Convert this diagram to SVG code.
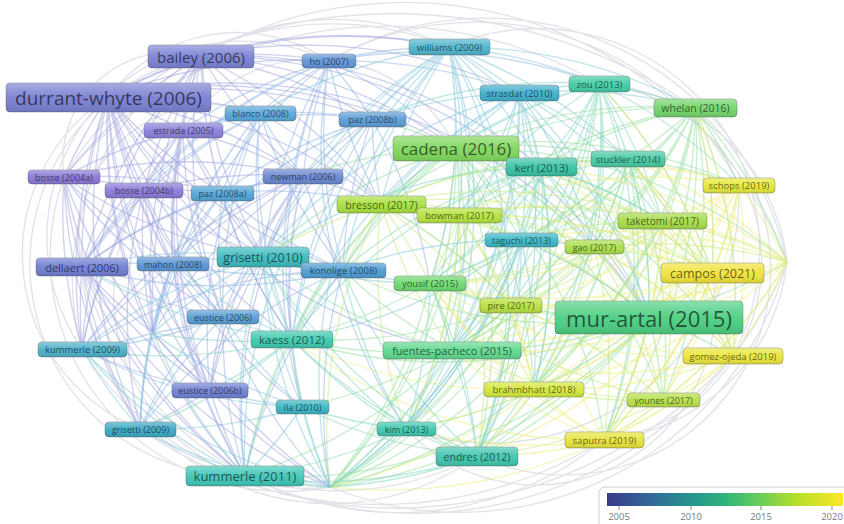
<svg xmlns="http://www.w3.org/2000/svg" width="844" height="524" viewBox="0 0 844 524">
<defs>
<linearGradient id="gloss" x1="0" y1="0" x2="0" y2="1">
<stop offset="0" stop-color="#fff" stop-opacity="0.35"/>
<stop offset="0.5" stop-color="#fff" stop-opacity="0.05"/>
<stop offset="1" stop-color="#000" stop-opacity="0.1"/>
</linearGradient>
<linearGradient id="viridis" x1="0" y1="0" x2="1" y2="0">
<stop offset="0" stop-color="#3b3a8a"/>
<stop offset="0.18" stop-color="#32689a"/>
<stop offset="0.356" stop-color="#26958f"/>
<stop offset="0.5" stop-color="#2fb47c"/>
<stop offset="0.653" stop-color="#6cce58"/>
<stop offset="0.8" stop-color="#b5de2b"/>
<stop offset="1" stop-color="#fde725"/>
</linearGradient>
</defs>
<style>
.edges path{fill:none;stroke-width:1.35;stroke-opacity:.5}
.ep{stroke:#a0a4e0}.eb{stroke:#8fb6e3}.ec{stroke:#84c8dc}.et{stroke:#7fd5c2}
.eg{stroke:#95e09e}.el{stroke:#c8e97c}.ey{stroke:#eded7a}.eh{stroke:#c3c8d4}
.node .b{stroke:#4a4a4a;stroke-opacity:.45;stroke-width:.8}
.node .g{fill:url(#gloss)}
.node text{font-family:"Open Sans","Liberation Sans",sans-serif;text-anchor:middle;dominant-baseline:central;fill:#000;fill-opacity:.6}
.legend text{font-family:"Open Sans","Liberation Sans",sans-serif;font-size:9.5px;fill:#777;text-anchor:middle}
</style>
<rect width="844" height="524" fill="#fff"/>

<g id="connectors" class="edges">
<!-- outer envelope arcs -->
<path class="eh" d="M64 177A310 310 0 0 1 449 47M108 97A530 530 0 0 1 695 108M329 61A295 295 0 0 1 739 185M201 56A412 412 0 0 1 787 262M449 47A222 222 0 0 1 733 356M599 84A179 179 0 0 1 604 440M695 108A207 207 0 0 1 477 456M787 262A402 402 0 0 1 245 476M733 356A451 451 0 0 1 140 429M604 440A327 327 0 0 1 82 267M330 487A235 235 0 0 1 64 177M140 429A188 188 0 0 1 108 97M245 476A212 212 0 0 1 201 56M82 349A196 196 0 0 1 329 61M712 273A179 179 0 0 1 406 429M787 262A308 308 0 0 0 329 61M82 267A249 249 0 0 0 477 456M144 190A194 194 0 0 0 330 487M183 130A157 157 0 0 1 456 148M64 177A109 109 0 0 1 201 56M82 267A134 134 0 0 1 260 113M108 97A162 162 0 0 1 329 61M64 177A420 420 0 0 1 599 84M82 349A260 260 0 0 1 449 47M787 262A340 340 0 0 1 330 487M739 185A250 250 0 0 1 406 429M787 262A200 200 0 0 1 604 440M787 262A200 200 0 0 0 599 84M477 456A300 300 0 0 1 82 349M604 440A420 420 0 0 1 140 429"/>
<!-- bailey -->
<path class="ep" d="M201 56A500 500 0 0 0 108 97M201 56A500 500 0 0 1 329 61M201 56A500 500 0 0 1 449 47M201 56A500 500 0 0 1 372 119M201 56A500 500 0 0 1 260 113M201 56A500 500 0 0 0 183 130M201 56A500 500 0 0 0 64 177M201 56A500 500 0 0 0 144 190M201 56A500 500 0 0 0 222 193M201 56A500 500 0 0 0 303 176M201 56A500 500 0 0 0 263 257M201 56A500 500 0 0 0 173 264M201 56A500 500 0 0 0 82 267M201 56A500 500 0 0 0 82 349M201 56A500 500 0 0 0 292 339M201 56A500 500 0 0 0 223 317M201 56A500 500 0 0 0 140 429M201 56A500 500 0 0 0 245 476M201 56A500 500 0 0 0 153 333M201 56A500 500 0 0 1 456 148M201 56A500 500 0 0 1 519 93M201 56A500 500 0 0 1 381 204M201 56A500 500 0 0 1 541 167M201 56A500 500 0 0 1 649 317"/>
<!-- durrant-whyte -->
<path class="ep" d="M108 97A500 500 0 0 1 329 61M108 97A500 500 0 0 1 372 119M108 97A500 500 0 0 1 260 113M108 97A500 500 0 0 1 183 130M108 97A500 500 0 0 0 64 177M108 97A500 500 0 0 0 144 190M108 97A500 500 0 0 0 222 193M108 97A500 500 0 0 1 303 176M108 97A500 500 0 0 0 263 257M108 97A500 500 0 0 0 173 264M108 97A500 500 0 0 0 82 267M108 97A500 500 0 0 0 82 349M108 97A500 500 0 0 0 140 429M108 97A500 500 0 0 0 210 390M108 97A500 500 0 0 0 223 317M108 97A500 500 0 0 0 292 339M108 97A500 500 0 0 0 245 476M108 97A500 500 0 0 0 153 333M108 97A500 500 0 0 0 330 487M108 97A500 500 0 0 1 449 47M108 97A500 500 0 0 1 456 148M108 97A500 500 0 0 1 381 204M108 97A500 500 0 0 0 343 270M108 97A500 500 0 0 0 302 407M108 97A500 500 0 0 1 649 317M108 97A500 500 0 0 0 452 350"/>
<!-- ho -->
<path class="eb" d="M329 61A500 500 0 0 1 449 47M329 61A500 500 0 0 1 372 119M329 61A500 500 0 0 0 260 113M329 61A500 500 0 0 0 183 130M329 61A500 500 0 0 0 303 176M329 61A500 500 0 0 0 381 204M329 61A500 500 0 0 1 456 148M329 61A500 500 0 0 1 519 93M329 61A500 500 0 0 1 599 84M329 61A500 500 0 0 0 263 257M329 61A500 500 0 0 0 343 270M329 61A500 500 0 0 0 292 339M329 61A500 500 0 0 0 153 333M329 61A500 500 0 0 0 82 267M329 61A500 500 0 0 0 144 190M329 61A500 500 0 0 0 302 407M329 61A500 500 0 0 0 406 429"/>
<!-- williams -->
<path class="ec" d="M449 47A500 500 0 0 1 519 93M449 47A500 500 0 0 1 599 84M449 47A500 500 0 0 1 456 148M449 47A500 500 0 0 1 541 167M449 47A500 500 0 0 0 372 119M449 47A500 500 0 0 0 260 113M449 47A500 500 0 0 0 303 176M449 47A500 500 0 0 0 381 204M449 47A500 500 0 0 1 459 215M449 47A500 500 0 0 1 521 240M449 47A500 500 0 0 0 263 257M449 47A500 500 0 0 0 343 270M449 47A500 500 0 0 0 292 339M449 47A500 500 0 0 1 477 456M449 47A500 500 0 0 1 406 429M449 47A500 500 0 0 1 695 108M449 47A500 500 0 0 1 628 159M449 47A500 500 0 0 0 330 487M449 47A500 500 0 0 0 245 476M449 47A500 500 0 0 1 649 317M449 47A500 500 0 0 1 452 350M449 47A500 500 0 0 1 430 283"/>
<!-- strasdat -->
<path class="ec" d="M519 93A500 500 0 0 1 599 84M519 93A500 500 0 0 1 695 108M519 93A500 500 0 0 0 456 148M519 93A500 500 0 0 1 541 167M519 93A500 500 0 0 1 628 159M519 93A500 500 0 0 1 662 221M519 93A500 500 0 0 0 372 119M519 93A500 500 0 0 0 381 204M519 93A500 500 0 0 1 459 215M519 93A500 500 0 0 1 521 240M519 93A500 500 0 0 1 594 247M519 93A500 500 0 0 1 649 317M519 93A500 500 0 0 1 452 350M519 93A500 500 0 0 1 477 456M519 93A500 500 0 0 1 406 429M519 93A500 500 0 0 0 292 339M519 93A500 500 0 0 0 263 257M519 93A500 500 0 0 0 343 270M519 93A500 500 0 0 1 430 283M519 93A500 500 0 0 1 534 389M519 93A500 500 0 0 1 330 487"/>
<!-- zou -->
<path class="et" d="M599 84A500 500 0 0 1 695 108M599 84A500 500 0 0 0 456 148M599 84A500 500 0 0 1 541 167M599 84A500 500 0 0 1 628 159M599 84A500 500 0 0 1 739 185M599 84A500 500 0 0 1 662 221M599 84A500 500 0 0 0 459 215M599 84A500 500 0 0 1 521 240M599 84A500 500 0 0 1 594 247M599 84A500 500 0 0 1 712 273M599 84A500 500 0 0 1 649 317M599 84A500 500 0 0 1 452 350M599 84A500 500 0 0 1 477 456M599 84A500 500 0 0 1 534 389M599 84A500 500 0 0 1 604 440M599 84A500 500 0 0 1 430 283M599 84A500 500 0 0 1 511 305M599 84A500 500 0 0 0 381 204M599 84A500 500 0 0 0 372 119"/>
<!-- whelan -->
<path class="eg" d="M695 108A500 500 0 0 0 456 148M695 108A500 500 0 0 0 541 167M695 108A500 500 0 0 1 628 159M695 108A500 500 0 0 1 739 185M695 108A500 500 0 0 1 662 221M695 108A500 500 0 0 0 459 215M695 108A500 500 0 0 1 521 240M695 108A500 500 0 0 1 594 247M695 108A500 500 0 0 1 712 273M695 108A500 500 0 0 1 649 317M695 108A500 500 0 0 1 733 356M695 108A500 500 0 0 1 663 400M695 108A500 500 0 0 1 534 389M695 108A500 500 0 0 1 604 440M695 108A500 500 0 0 1 452 350M695 108A500 500 0 0 1 430 283M695 108A500 500 0 0 1 511 305M695 108A500 500 0 0 0 381 204M695 108A500 500 0 0 1 787 262M695 108A500 500 0 0 1 477 456"/>
<!-- cadena -->
<path class="eg" d="M456 148A500 500 0 0 1 541 167M456 148A500 500 0 0 1 628 159M456 148A500 500 0 0 1 739 185M456 148A500 500 0 0 1 662 221M456 148A500 500 0 0 0 381 204M456 148A500 500 0 0 1 459 215M456 148A500 500 0 0 1 521 240M456 148A500 500 0 0 1 594 247M456 148A500 500 0 0 1 712 273M456 148A500 500 0 0 1 649 317M456 148A500 500 0 0 1 733 356M456 148A500 500 0 0 1 663 400M456 148A500 500 0 0 1 534 389M456 148A500 500 0 0 1 604 440M456 148A500 500 0 0 1 477 456M456 148A500 500 0 0 1 406 429M456 148A500 500 0 0 1 452 350M456 148A500 500 0 0 1 430 283M456 148A500 500 0 0 1 511 305M456 148A500 500 0 0 0 372 119M456 148A500 500 0 0 0 303 176M456 148A500 500 0 0 0 263 257M456 148A500 500 0 0 0 343 270M456 148A500 500 0 0 0 292 339M456 148A500 500 0 0 1 330 487M456 148A500 500 0 0 1 787 262M456 148A500 500 0 0 0 245 476"/>
<!-- kerl -->
<path class="et" d="M541 167A500 500 0 0 1 628 159M541 167A500 500 0 0 1 662 221M541 167A500 500 0 0 0 459 215M541 167A500 500 0 0 1 521 240M541 167A500 500 0 0 1 594 247M541 167A500 500 0 0 1 649 317M541 167A500 500 0 0 1 477 456M541 167A500 500 0 0 1 406 429M541 167A500 500 0 0 1 452 350M541 167A500 500 0 0 1 534 389M541 167A500 500 0 0 1 430 283M541 167A500 500 0 0 1 511 305M541 167A500 500 0 0 0 263 257M541 167A500 500 0 0 0 292 339M541 167A500 500 0 0 0 343 270M541 167A500 500 0 0 1 330 487"/>
<!-- stuckler -->
<path class="eg" d="M628 159A500 500 0 0 1 739 185M628 159A500 500 0 0 1 662 221M628 159A500 500 0 0 0 459 215M628 159A500 500 0 0 1 521 240M628 159A500 500 0 0 1 594 247M628 159A500 500 0 0 1 712 273M628 159A500 500 0 0 1 649 317M628 159A500 500 0 0 1 733 356M628 159A500 500 0 0 1 663 400M628 159A500 500 0 0 1 534 389M628 159A500 500 0 0 1 604 440M628 159A500 500 0 0 1 452 350M628 159A500 500 0 0 1 430 283M628 159A500 500 0 0 1 511 305M628 159A500 500 0 0 0 381 204M628 159A500 500 0 0 1 477 456"/>
<!-- schops -->
<path class="ey" d="M739 185A500 500 0 0 1 662 221M739 185A500 500 0 0 1 594 247M739 185A500 500 0 0 1 712 273M739 185A500 500 0 0 1 649 317M739 185A500 500 0 0 1 733 356M739 185A500 500 0 0 1 663 400M739 185A500 500 0 0 1 534 389M739 185A500 500 0 0 1 604 440M739 185A500 500 0 0 1 787 262M739 185A500 500 0 0 1 511 305M739 185A500 500 0 0 1 452 350M739 185A500 500 0 0 0 459 215M739 185A500 500 0 0 0 381 204M739 185A500 500 0 0 0 541 167M739 185A500 500 0 0 1 430 283"/>
<!-- taketomi -->
<path class="el" d="M662 221A500 500 0 0 1 594 247M662 221A500 500 0 0 1 712 273M662 221A500 500 0 0 1 649 317M662 221A500 500 0 0 1 733 356M662 221A500 500 0 0 1 663 400M662 221A500 500 0 0 1 534 389M662 221A500 500 0 0 1 604 440M662 221A500 500 0 0 1 511 305M662 221A500 500 0 0 1 430 283M662 221A500 500 0 0 1 452 350M662 221A500 500 0 0 1 787 262M662 221A500 500 0 0 0 459 215M662 221A500 500 0 0 0 381 204M662 221A500 500 0 0 0 521 240"/>
<!-- paz 2008b -->
<path class="eb" d="M372 119A500 500 0 0 0 260 113M372 119A500 500 0 0 0 303 176M372 119A500 500 0 0 0 381 204M372 119A500 500 0 0 0 263 257M372 119A500 500 0 0 0 343 270M372 119A500 500 0 0 0 222 193M372 119A500 500 0 0 0 183 130M372 119A500 500 0 0 0 173 264M372 119A500 500 0 0 0 292 339M372 119A500 500 0 0 1 430 283"/>
<!-- blanco -->
<path class="eb" d="M260 113A500 500 0 0 0 183 130M260 113A500 500 0 0 0 222 193M260 113A500 500 0 0 0 303 176M260 113A500 500 0 0 0 263 257M260 113A500 500 0 0 0 173 264M260 113A500 500 0 0 0 82 267M260 113A500 500 0 0 0 223 317M260 113A500 500 0 0 0 292 339M260 113A500 500 0 0 0 343 270M260 113A500 500 0 0 1 381 204M260 113A500 500 0 0 0 144 190M260 113A500 500 0 0 0 153 333M260 113A500 500 0 0 0 210 390M260 113A500 500 0 0 0 140 429"/>
<!-- estrada -->
<path class="ep" d="M183 130A500 500 0 0 0 64 177M183 130A500 500 0 0 0 144 190M183 130A500 500 0 0 0 222 193M183 130A500 500 0 0 1 303 176M183 130A500 500 0 0 0 173 264M183 130A500 500 0 0 0 82 267M183 130A500 500 0 0 0 82 349M183 130A500 500 0 0 0 223 317M183 130A500 500 0 0 0 153 333M183 130A500 500 0 0 0 263 257M183 130A500 500 0 0 0 210 390"/>
<!-- bosse 2004a -->
<path class="ep" d="M64 177A500 500 0 0 1 144 190M64 177A500 500 0 0 1 222 193M64 177A500 500 0 0 0 82 267M64 177A500 500 0 0 0 82 349M64 177A500 500 0 0 0 173 264M64 177A500 500 0 0 0 140 429M64 177A500 500 0 0 0 153 333M64 177A500 500 0 0 0 210 390M64 177A500 500 0 0 0 223 317M64 177A500 500 0 0 0 263 257M64 177A500 500 0 0 1 303 176M64 177A500 500 0 0 0 245 476"/>
<!-- bosse 2004b -->
<path class="ep" d="M144 190A500 500 0 0 1 222 193M144 190A500 500 0 0 0 173 264M144 190A500 500 0 0 0 82 267M144 190A500 500 0 0 0 82 349M144 190A500 500 0 0 0 153 333M144 190A500 500 0 0 0 223 317M144 190A500 500 0 0 0 263 257M144 190A500 500 0 0 1 303 176M144 190A500 500 0 0 0 210 390"/>
<!-- paz 2008a -->
<path class="eb" d="M222 193A500 500 0 0 1 303 176M222 193A500 500 0 0 0 263 257M222 193A500 500 0 0 0 173 264M222 193A500 500 0 0 0 82 267M222 193A500 500 0 0 0 223 317M222 193A500 500 0 0 0 292 339M222 193A500 500 0 0 0 153 333M222 193A500 500 0 0 0 343 270M222 193A500 500 0 0 1 381 204"/>
<!-- newman -->
<path class="ep" d="M303 176A500 500 0 0 1 381 204M303 176A500 500 0 0 0 263 257M303 176A500 500 0 0 0 343 270M303 176A500 500 0 0 0 173 264M303 176A500 500 0 0 0 82 267M303 176A500 500 0 0 0 292 339M303 176A500 500 0 0 0 223 317M303 176A500 500 0 0 0 153 333M303 176A500 500 0 0 0 302 407M303 176A500 500 0 0 0 210 390M303 176A500 500 0 0 0 82 349M303 176A500 500 0 0 0 245 476"/>
<!-- bresson -->
<path class="el" d="M381 204A500 500 0 0 1 459 215M381 204A500 500 0 0 1 521 240M381 204A500 500 0 0 1 594 247M381 204A500 500 0 0 1 649 317M381 204A500 500 0 0 0 452 350M381 204A500 500 0 0 1 430 283M381 204A500 500 0 0 1 511 305M381 204A500 500 0 0 0 343 270M381 204A500 500 0 0 0 263 257M381 204A500 500 0 0 1 534 389M381 204A500 500 0 0 1 712 273M381 204A500 500 0 0 0 406 429M381 204A500 500 0 0 0 330 487"/>
<!-- bowman -->
<path class="el" d="M459 215A500 500 0 0 1 521 240M459 215A500 500 0 0 1 594 247M459 215A500 500 0 0 1 649 317M459 215A500 500 0 0 1 452 350M459 215A500 500 0 0 1 430 283M459 215A500 500 0 0 1 511 305M459 215A500 500 0 0 1 534 389M459 215A500 500 0 0 1 477 456M459 215A500 500 0 0 1 712 273M459 215A500 500 0 0 1 406 429"/>
<!-- taguchi -->
<path class="ec" d="M521 240A500 500 0 0 1 594 247M521 240A500 500 0 0 1 649 317M521 240A500 500 0 0 1 477 456M521 240A500 500 0 0 1 406 429M521 240A500 500 0 0 1 452 350M521 240A500 500 0 0 1 430 283M521 240A500 500 0 0 1 511 305M521 240A500 500 0 0 1 534 389M521 240A500 500 0 0 1 292 339M521 240A500 500 0 0 0 343 270M521 240A500 500 0 0 1 330 487"/>
<!-- gao -->
<path class="el" d="M594 247A500 500 0 0 1 712 273M594 247A500 500 0 0 1 649 317M594 247A500 500 0 0 1 733 356M594 247A500 500 0 0 1 663 400M594 247A500 500 0 0 1 534 389M594 247A500 500 0 0 1 604 440M594 247A500 500 0 0 1 452 350M594 247A500 500 0 0 1 430 283M594 247A500 500 0 0 1 511 305M594 247A500 500 0 0 1 787 262"/>
<!-- campos -->
<path class="ey" d="M712 273A500 500 0 0 1 649 317M712 273A500 500 0 0 1 733 356M712 273A500 500 0 0 1 663 400M712 273A500 500 0 0 1 534 389M712 273A500 500 0 0 1 604 440M712 273A500 500 0 0 1 511 305M712 273A500 500 0 0 1 430 283M712 273A500 500 0 0 1 452 350M712 273A500 500 0 0 0 787 262M712 273A500 500 0 0 1 477 456M712 273A500 500 0 0 0 541 167M712 273A500 500 0 0 0 695 108M712 273A500 500 0 0 0 599 84M712 273A500 500 0 0 0 628 159M712 273A500 500 0 0 0 459 215M712 273A500 500 0 0 0 521 240"/>
<!-- mur-artal -->
<path class="eg" d="M649 317A500 500 0 0 1 733 356M649 317A500 500 0 0 1 663 400M649 317A500 500 0 0 1 534 389M649 317A500 500 0 0 1 604 440M649 317A500 500 0 0 1 477 456M649 317A500 500 0 0 1 406 429M649 317A500 500 0 0 1 452 350M649 317A500 500 0 0 1 430 283M649 317A500 500 0 0 1 511 305M649 317A500 500 0 0 0 787 262M649 317A500 500 0 0 1 292 339M649 317A500 500 0 0 1 343 270M649 317A500 500 0 0 1 245 476M649 317A500 500 0 0 1 330 487"/>
<!-- gomez-ojeda, younes, brahmbhatt, saputra -->
<path class="ey" d="M733 356A500 500 0 0 1 663 400M733 356A500 500 0 0 1 534 389M733 356A500 500 0 0 1 604 440M733 356A500 500 0 0 1 511 305M733 356A500 500 0 0 1 452 350M733 356A500 500 0 0 0 787 262M733 356A500 500 0 0 1 430 283M733 356A500 500 0 0 0 695 108M733 356A500 500 0 0 0 628 159M733 356A500 500 0 0 0 541 167M733 356A500 500 0 0 0 594 247"/>
<path class="el" d="M663 400A500 500 0 0 1 534 389M663 400A500 500 0 0 1 604 440M663 400A500 500 0 0 1 452 350M663 400A500 500 0 0 1 430 283M663 400A500 500 0 0 0 511 305M663 400A500 500 0 0 1 477 456M663 400A500 500 0 0 0 787 262"/>
<path class="ey" d="M534 389A500 500 0 0 0 604 440M534 389A500 500 0 0 1 477 456M534 389A500 500 0 0 1 406 429M534 389A500 500 0 0 1 452 350M534 389A500 500 0 0 1 430 283M534 389A500 500 0 0 0 511 305M534 389A500 500 0 0 1 330 487M534 389A500 500 0 0 0 787 262M534 389A500 500 0 0 1 292 339M534 389A500 500 0 0 0 712 273M534 389A500 500 0 0 0 459 215"/>
<path class="ey" d="M604 440A500 500 0 0 1 477 456M604 440A500 500 0 0 1 406 429M604 440A500 500 0 0 1 452 350M604 440A500 500 0 0 1 430 283M604 440A500 500 0 0 0 511 305M604 440A500 500 0 0 1 330 487M604 440A500 500 0 0 0 787 262M604 440A500 500 0 0 1 292 339M604 440A500 500 0 0 0 739 185M604 440A500 500 0 0 0 662 221M604 440A500 500 0 0 0 733 356"/>
<!-- yousif, pire -->
<path class="eg" d="M430 283A500 500 0 0 1 452 350M430 283A500 500 0 0 1 292 339M430 283A500 500 0 0 0 511 305M511 305A500 500 0 0 1 452 350M511 305A500 500 0 0 1 406 429M511 305A500 500 0 0 1 477 456M511 305A500 500 0 0 1 292 339M511 305A500 500 0 0 0 381 204"/>
<!-- endres, kim -->
<path class="et" d="M477 456A500 500 0 0 1 406 429M477 456A500 500 0 0 0 452 350M477 456A500 500 0 0 1 292 339M477 456A500 500 0 0 1 302 407M477 456A500 500 0 0 1 245 476M477 456A500 500 0 0 1 330 487M477 456A500 500 0 0 0 430 283M477 456A500 500 0 0 0 511 305M477 456A500 500 0 0 1 263 257M477 456A500 500 0 0 1 343 270"/>
<path class="et" d="M406 429A500 500 0 0 0 452 350M406 429A500 500 0 0 1 292 339M406 429A500 500 0 0 1 302 407M406 429A500 500 0 0 1 245 476M406 429A500 500 0 0 1 330 487M406 429A500 500 0 0 0 430 283M406 429A500 500 0 0 1 343 270M406 429A500 500 0 0 1 263 257"/>
<!-- fuentes-pacheco -->
<path class="eg" d="M452 350A500 500 0 0 1 292 339M452 350A500 500 0 0 1 302 407M452 350A500 500 0 0 1 343 270M452 350A500 500 0 0 0 430 283M452 350A500 500 0 0 0 511 305M452 350A500 500 0 0 1 330 487M452 350A500 500 0 0 1 245 476M452 350A500 500 0 0 1 263 257"/>
<!-- kaess, ila -->
<path class="et" d="M292 339A500 500 0 0 0 302 407M292 339A500 500 0 0 1 210 390M292 339A500 500 0 0 1 223 317M292 339A500 500 0 0 1 263 257M292 339A500 500 0 0 1 343 270M292 339A500 500 0 0 1 140 429M292 339A500 500 0 0 0 245 476M292 339A500 500 0 0 0 330 487M292 339A500 500 0 0 1 153 333M292 339A500 500 0 0 1 82 349M292 339A500 500 0 0 1 173 264M292 339A500 500 0 0 1 82 267"/>
<path class="ec" d="M302 407A500 500 0 0 1 210 390M302 407A500 500 0 0 1 223 317M302 407A500 500 0 0 1 263 257M302 407A500 500 0 0 1 140 429M302 407A500 500 0 0 1 245 476M302 407A500 500 0 0 0 330 487M302 407A500 500 0 0 1 153 333M302 407A500 500 0 0 1 82 349"/>
<!-- eustice -->
<path class="ep" d="M210 390A500 500 0 0 1 223 317M210 390A500 500 0 0 1 263 257M210 390A500 500 0 0 1 173 264M210 390A500 500 0 0 1 82 267M210 390A500 500 0 0 1 82 349M210 390A500 500 0 0 1 140 429M210 390A500 500 0 0 0 245 476M210 390A500 500 0 0 0 330 487M210 390A500 500 0 0 1 153 333"/>
<path class="eb" d="M223 317A500 500 0 0 1 263 257M223 317A500 500 0 0 1 173 264M223 317A500 500 0 0 1 82 267M223 317A500 500 0 0 1 82 349M223 317A500 500 0 0 0 140 429M223 317A500 500 0 0 0 245 476M223 317A500 500 0 0 1 153 333M223 317A500 500 0 0 0 330 487"/>
<!-- grisetti 2010, konolige -->
<path class="ec" d="M263 257A500 500 0 0 0 343 270M263 257A500 500 0 0 0 173 264M263 257A500 500 0 0 0 82 267M263 257A500 500 0 0 0 82 349M263 257A500 500 0 0 0 140 429M263 257A500 500 0 0 0 245 476M263 257A500 500 0 0 0 330 487M263 257A500 500 0 0 0 153 333M263 257A500 500 0 0 0 430 283"/>
<path class="eb" d="M343 270A500 500 0 0 1 173 264M343 270A500 500 0 0 1 82 267M343 270A500 500 0 0 0 82 349M343 270A500 500 0 0 0 140 429M343 270A500 500 0 0 0 245 476M343 270A500 500 0 0 0 330 487M343 270A500 500 0 0 0 430 283"/>
<!-- left column -->
<path class="eb" d="M173 264A500 500 0 0 0 82 267M173 264A500 500 0 0 0 82 349M173 264A500 500 0 0 0 140 429M173 264A500 500 0 0 0 245 476M173 264A500 500 0 0 0 153 333"/>
<path class="ep" d="M82 267A500 500 0 0 0 82 349M82 267A500 500 0 0 0 140 429M82 267A500 500 0 0 0 245 476M82 267A500 500 0 0 0 153 333M82 267A500 500 0 0 0 330 487"/>
<path class="ec" d="M82 349A500 500 0 0 0 140 429M82 349A500 500 0 0 0 245 476M82 349A500 500 0 0 0 330 487M82 349A500 500 0 0 0 153 333M140 429A500 500 0 0 0 245 476M140 429A500 500 0 0 0 330 487M140 429A500 500 0 0 1 153 333"/>
<path class="et" d="M245 476A500 500 0 0 0 330 487M245 476A500 500 0 0 1 153 333"/>
<!-- lower and right convergence points -->
<path class="eg" d="M330 487A500 500 0 0 0 628 159M330 487A500 500 0 0 0 662 221M330 487A500 500 0 0 0 594 247M330 487A500 500 0 0 0 459 215M330 487A500 500 0 0 0 430 283M330 487A500 500 0 0 0 511 305M330 487A500 500 0 0 0 599 84"/>
<path class="ey" d="M787 262A500 500 0 0 0 628 159M787 262A500 500 0 0 0 541 167M787 262A500 500 0 0 1 511 305M787 262A500 500 0 0 1 430 283M787 262A500 500 0 0 1 452 350M787 262A500 500 0 0 0 459 215M787 262A500 500 0 0 0 521 240"/>
</g>

<g id="nodes">
<g id="n-bailey" class="node"><rect class="b" x="148" y="45" width="106" height="23" rx="4" fill="#7b82d4"/><rect class="g" x="148" y="45" width="106" height="23" rx="4"/><text x="201" y="56.5" font-size="15">bailey (2006)</text></g>
<g id="n-durrant-whyte" class="node"><rect class="b" x="6" y="83" width="205" height="29" rx="4" fill="#7a80d2"/><rect class="g" x="6" y="83" width="205" height="29" rx="4"/><text x="108.5" y="97.5" font-size="19">durrant-whyte (2006)</text></g>
<g id="n-ho" class="node"><rect class="b" x="302" y="54" width="54" height="14" rx="4" fill="#5f95d8"/><rect class="g" x="302" y="54" width="54" height="14" rx="4"/><text x="329" y="61" font-size="9">ho (2007)</text></g>
<g id="n-williams" class="node"><rect class="b" x="409" y="39" width="81" height="16" rx="4" fill="#4fb4cc"/><rect class="g" x="409" y="39" width="81" height="16" rx="4"/><text x="449.5" y="47" font-size="9.5">williams (2009)</text></g>
<g id="n-strasdat" class="node"><rect class="b" x="480" y="85" width="79" height="16" rx="4" fill="#40aecb"/><rect class="g" x="480" y="85" width="79" height="16" rx="4"/><text x="519.5" y="93" font-size="9.5">strasdat (2010)</text></g>
<g id="n-zou" class="node"><rect class="b" x="569" y="76" width="61" height="16" rx="4" fill="#44cba6"/><rect class="g" x="569" y="76" width="61" height="16" rx="4"/><text x="599.5" y="84" font-size="9.5">zou (2013)</text></g>
<g id="n-whelan" class="node"><rect class="b" x="654" y="99" width="83" height="18" rx="4" fill="#72d56a"/><rect class="g" x="654" y="99" width="83" height="18" rx="4"/><text x="695.5" y="108" font-size="10.5">whelan (2016)</text></g>
<g id="n-cadena" class="node"><rect class="b" x="393" y="136" width="126" height="25" rx="4" fill="#80d75c"/><rect class="g" x="393" y="136" width="126" height="25" rx="4"/><text x="456" y="148.5" font-size="17">cadena (2016)</text></g>
<g id="n-kerl" class="node"><rect class="b" x="506" y="158" width="71" height="18" rx="4" fill="#38c3a4"/><rect class="g" x="506" y="158" width="71" height="18" rx="4"/><text x="541.5" y="167" font-size="11">kerl (2013)</text></g>
<g id="n-stuckler" class="node"><rect class="b" x="591" y="151" width="74" height="16" rx="4" fill="#48c9a2"/><rect class="g" x="591" y="151" width="74" height="16" rx="4"/><text x="628" y="159" font-size="9.5">stuckler (2014)</text></g>
<g id="n-schops" class="node"><rect class="b" x="703" y="178" width="72" height="15" rx="4" fill="#e6e838"/><rect class="g" x="703" y="178" width="72" height="15" rx="4"/><text x="739" y="185.5" font-size="9.5">schops (2019)</text></g>
<g id="n-taketomi" class="node"><rect class="b" x="618" y="213" width="89" height="16" rx="4" fill="#a6dc48"/><rect class="g" x="618" y="213" width="89" height="16" rx="4"/><text x="662.5" y="221" font-size="10">taketomi (2017)</text></g>
<g id="n-paz-2008b" class="node"><rect class="b" x="339" y="112" width="67" height="15" rx="4" fill="#5a9dd6"/><rect class="g" x="339" y="112" width="67" height="15" rx="4"/><text x="372.5" y="119.5" font-size="9">paz (2008b)</text></g>
<g id="n-blanco" class="node"><rect class="b" x="225" y="106" width="71" height="15" rx="4" fill="#5aa6d8"/><rect class="g" x="225" y="106" width="71" height="15" rx="4"/><text x="260.5" y="113.5" font-size="9">blanco (2008)</text></g>
<g id="n-estrada" class="node"><rect class="b" x="144" y="123" width="79" height="15" rx="4" fill="#8a80da"/><rect class="g" x="144" y="123" width="79" height="15" rx="4"/><text x="183.5" y="130.5" font-size="9">estrada (2005)</text></g>
<g id="n-bosse-2004a" class="node"><rect class="b" x="28" y="170" width="72" height="14" rx="4" fill="#8a78d6"/><rect class="g" x="28" y="170" width="72" height="14" rx="4"/><text x="64" y="177" font-size="9">bosse (2004a)</text></g>
<g id="n-bosse-2004b" class="node"><rect class="b" x="105" y="183" width="78" height="15" rx="4" fill="#8a7ad8"/><rect class="g" x="105" y="183" width="78" height="15" rx="4"/><text x="144" y="190.5" font-size="9">bosse (2004b)</text></g>
<g id="n-paz-2008a" class="node"><rect class="b" x="191" y="186" width="63" height="15" rx="4" fill="#52a4d4"/><rect class="g" x="191" y="186" width="63" height="15" rx="4"/><text x="222.5" y="193.5" font-size="9">paz (2008a)</text></g>
<g id="n-newman" class="node"><rect class="b" x="263" y="169" width="80" height="15" rx="4" fill="#6a88d2"/><rect class="g" x="263" y="169" width="80" height="15" rx="4"/><text x="303" y="176.5" font-size="9">newman (2006)</text></g>
<g id="n-bresson" class="node"><rect class="b" x="337" y="196" width="89" height="17" rx="4" fill="#a8e03e"/><rect class="g" x="337" y="196" width="89" height="17" rx="4"/><text x="381.5" y="204.5" font-size="10.5">bresson (2017)</text></g>
<g id="n-bowman" class="node"><rect class="b" x="417" y="208" width="85" height="15" rx="4" fill="#b4e23e"/><rect class="g" x="417" y="208" width="85" height="15" rx="4"/><text x="459.5" y="215.5" font-size="9.5">bowman (2017)</text></g>
<g id="n-taguchi" class="node"><rect class="b" x="485" y="233" width="73" height="14" rx="4" fill="#3cb8c8"/><rect class="g" x="485" y="233" width="73" height="14" rx="4"/><text x="521.5" y="240" font-size="9">taguchi (2013)</text></g>
<g id="n-gao" class="node"><rect class="b" x="565" y="240" width="59" height="14" rx="4" fill="#aade4a"/><rect class="g" x="565" y="240" width="59" height="14" rx="4"/><text x="594.5" y="247" font-size="9">gao (2017)</text></g>
<g id="n-campos" class="node"><rect class="b" x="661" y="263" width="103" height="20" rx="4" fill="#f0e23a"/><rect class="g" x="661" y="263" width="103" height="20" rx="4"/><text x="712.5" y="273" font-size="12.5">campos (2021)</text></g>
<g id="n-mur-artal" class="node"><rect class="b" x="555" y="301" width="188" height="33" rx="4" fill="#4ccf82"/><rect class="g" x="555" y="301" width="188" height="33" rx="4"/><text x="649" y="317.5" font-size="22">mur-artal (2015)</text></g>
<g id="n-gomez-ojeda" class="node"><rect class="b" x="683" y="348" width="100" height="16" rx="4" fill="#eae63c"/><rect class="g" x="683" y="348" width="100" height="16" rx="4"/><text x="733" y="356" font-size="9.5">gomez-ojeda (2019)</text></g>
<g id="n-younes" class="node"><rect class="b" x="627" y="393" width="73" height="14" rx="4" fill="#b6e04a"/><rect class="g" x="627" y="393" width="73" height="14" rx="4"/><text x="663.5" y="400" font-size="9">younes (2017)</text></g>
<g id="n-brahmbhatt" class="node"><rect class="b" x="484" y="382" width="100" height="15" rx="4" fill="#d2e83c"/><rect class="g" x="484" y="382" width="100" height="15" rx="4"/><text x="534" y="389.5" font-size="9.5">brahmbhatt (2018)</text></g>
<g id="n-saputra" class="node"><rect class="b" x="565" y="432" width="79" height="16" rx="4" fill="#e6e43c"/><rect class="g" x="565" y="432" width="79" height="16" rx="4"/><text x="604.5" y="440" font-size="9.5">saputra (2019)</text></g>
<g id="n-endres" class="node"><rect class="b" x="436" y="447" width="82" height="19" rx="4" fill="#3ec6ae"/><rect class="g" x="436" y="447" width="82" height="19" rx="4"/><text x="477" y="456.5" font-size="10.5">endres (2012)</text></g>
<g id="n-kim" class="node"><rect class="b" x="377" y="422" width="59" height="14" rx="4" fill="#3ec8ae"/><rect class="g" x="377" y="422" width="59" height="14" rx="4"/><text x="406.5" y="429" font-size="9">kim (2013)</text></g>
<g id="n-fuentes-pacheco" class="node"><rect class="b" x="383" y="342" width="138" height="17" rx="4" fill="#60d98e"/><rect class="g" x="383" y="342" width="138" height="17" rx="4"/><text x="452" y="350.5" font-size="11">fuentes-pacheco (2015)</text></g>
<g id="n-kaess" class="node"><rect class="b" x="251" y="331" width="82" height="17" rx="4" fill="#3ec9b0"/><rect class="g" x="251" y="331" width="82" height="17" rx="4"/><text x="292" y="339.5" font-size="11.5">kaess (2012)</text></g>
<g id="n-ila" class="node"><rect class="b" x="276" y="400" width="53" height="14" rx="4" fill="#3ab6c4"/><rect class="g" x="276" y="400" width="53" height="14" rx="4"/><text x="302.5" y="407" font-size="9">ila (2010)</text></g>
<g id="n-eustice-2006b" class="node"><rect class="b" x="172" y="383" width="76" height="15" rx="4" fill="#6e80d2"/><rect class="g" x="172" y="383" width="76" height="15" rx="4"/><text x="210" y="390.5" font-size="9">eustice (2006b)</text></g>
<g id="n-eustice-2006" class="node"><rect class="b" x="187" y="310" width="72" height="14" rx="4" fill="#589ed6"/><rect class="g" x="187" y="310" width="72" height="14" rx="4"/><text x="223" y="317" font-size="9">eustice (2006)</text></g>
<g id="n-grisetti-2010" class="node"><rect class="b" x="217" y="247" width="92" height="20" rx="4" fill="#3cbabe"/><rect class="g" x="217" y="247" width="92" height="20" rx="4"/><text x="263" y="257" font-size="12.5">grisetti (2010)</text></g>
<g id="n-konolige" class="node"><rect class="b" x="301" y="263" width="85" height="15" rx="4" fill="#4e9cd2"/><rect class="g" x="301" y="263" width="85" height="15" rx="4"/><text x="343.5" y="270.5" font-size="9.5">konolige (2008)</text></g>
<g id="n-mahon" class="node"><rect class="b" x="137" y="257" width="72" height="14" rx="4" fill="#5a96d6"/><rect class="g" x="137" y="257" width="72" height="14" rx="4"/><text x="173" y="264" font-size="9">mahon (2008)</text></g>
<g id="n-dellaert" class="node"><rect class="b" x="36" y="258" width="92" height="18" rx="4" fill="#6f7ed2"/><rect class="g" x="36" y="258" width="92" height="18" rx="4"/><text x="82" y="267" font-size="11">dellaert (2006)</text></g>
<g id="n-kummerle-2009" class="node"><rect class="b" x="38" y="342" width="89" height="15" rx="4" fill="#4cb0ca"/><rect class="g" x="38" y="342" width="89" height="15" rx="4"/><text x="82.5" y="349.5" font-size="9.5">kummerle (2009)</text></g>
<g id="n-grisetti-2009" class="node"><rect class="b" x="105" y="422" width="71" height="15" rx="4" fill="#3ca8c4"/><rect class="g" x="105" y="422" width="71" height="15" rx="4"/><text x="140.5" y="429.5" font-size="9">grisetti (2009)</text></g>
<g id="n-kummerle-2011" class="node"><rect class="b" x="186" y="466" width="118" height="20" rx="4" fill="#3ec6b8"/><rect class="g" x="186" y="466" width="118" height="20" rx="4"/><text x="245" y="476" font-size="13">kummerle (2011)</text></g>
<g id="n-yousif" class="node"><rect class="b" x="394" y="276" width="72" height="15" rx="4" fill="#6cd970"/><rect class="g" x="394" y="276" width="72" height="15" rx="4"/><text x="430" y="283.5" font-size="9.5">yousif (2015)</text></g>
<g id="n-pire" class="node"><rect class="b" x="480" y="298" width="62" height="15" rx="4" fill="#b8e040"/><rect class="g" x="480" y="298" width="62" height="15" rx="4"/><text x="511" y="305.5" font-size="9.5">pire (2017)</text></g>
</g>

<g id="legend" class="legend">
<rect x="599" y="487" width="262" height="50" rx="6" fill="#fff" stroke="#cfcfcf"/>
<rect x="607" y="493" width="236" height="13" fill="url(#viridis)"/>
<g stroke="#8a8a8a" stroke-width="1">
<line x1="619" y1="506" x2="619" y2="510"/><line x1="691" y1="506" x2="691" y2="510"/><line x1="761" y1="506" x2="761" y2="510"/><line x1="832" y1="506" x2="832" y2="510"/>
</g>
<text x="619" y="520">2005</text><text x="691" y="520">2010</text><text x="761" y="520">2015</text><text x="832" y="520">2020</text>
</g>
</svg>
